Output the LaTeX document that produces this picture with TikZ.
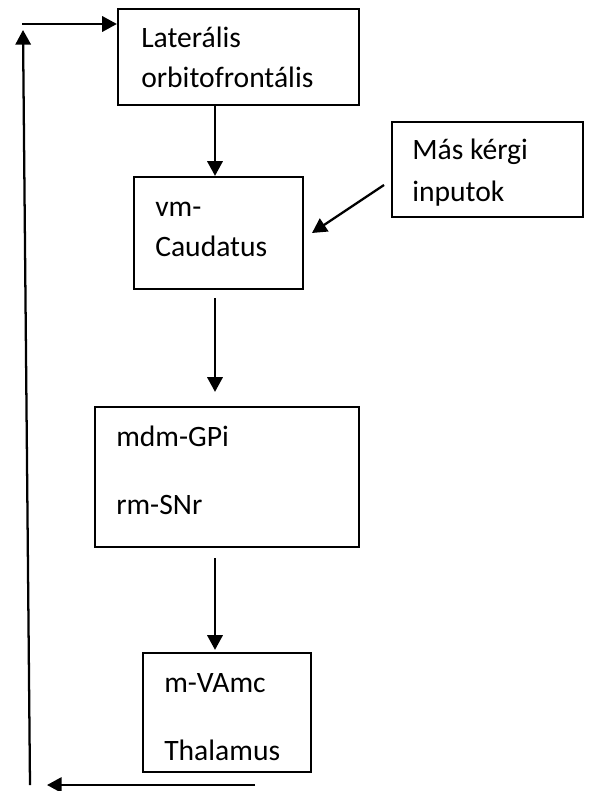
\documentclass[tikz,border=0pt]{standalone}
\usepackage{fontspec}
\setmainfont{Carlito}
\usetikzlibrary{arrows.meta}
\begin{document}
\begin{tikzpicture}[x=0.75pt,y=-0.75pt,
  box/.style={draw,line width=1.7pt,minimum width=#1,inner sep=0pt},
  lbl/.style={anchor=base west,inner sep=0pt,font=\fontsize{22.2}{26}\selectfont},
  arr/.style={line width=1.7pt,-{Triangle[length=11pt,width=11.5pt]}}]
\useasboundingbox (0,0) rectangle (591,791);
% boxes
\node[box=180.75pt,minimum height=72pt]  (lof) at (238.5,57) {};
\node[box=126.75pt,minimum height=84pt]  (cau) at (218.5,233) {};
\node[box=143.25pt,minimum height=71.25pt] (mki) at (487.5,169.5) {};
\node[box=198pt,minimum height=105pt]    (gpi) at (227,477) {};
\node[box=126pt,minimum height=89.25pt]  (tha) at (227,712.5) {};
% labels
\node[lbl] (t1a) at (141,48) {Laterális};
\node[lbl] (t1b) at (141,88) {orbitofrontális};
\node[lbl] (t2a) at (155,217) {vm-};
\node[lbl] (t2b) at (155,257) {Caudatus};
\node[lbl] (t3a) at (412,160) {Más kérgi};
\node[lbl] (t3b) at (412,202) {inputok};
\node[lbl] (t4a) at (116,446) {mdm-GPi};
\node[lbl] (t4b) at (116,514) {rm-SNr};
\node[lbl] (t5a) at (164,692) {m-VAmc};
\node[lbl] (t5b) at (164,760) {Thalamus};
% main chain
\coordinate (ax) at (215,0);
\draw[arr] (lof.south -| ax) -- (cau.north -| ax);
\draw[arr,shorten <=6pt,shorten >=10.5pt] (cau.south -| ax) -- (gpi.north -| ax);
\draw[arr,shorten <=7.5pt,shorten >=1.5pt] (gpi.south -| ax) -- (tha.north -| ax);
% side input
\coordinate (inS) at (384,185);
\coordinate (inE) at (312,233);
\draw[arr] (inS) -- (inE);
% feedback loop
\coordinate (fbA) at (255,785);
\coordinate (fbB) at (47,785);
\coordinate (fbC) at (30,785);
\coordinate (fbD) at (23,30);
\coordinate (fbE) at (22,24);
\draw[arr] (fbA) -- (fbB);
\draw[arr] (fbC) -- (fbD);
\draw[arr] (fbE) -- (fbE -| lof.west);
\end{tikzpicture}
\end{document}
